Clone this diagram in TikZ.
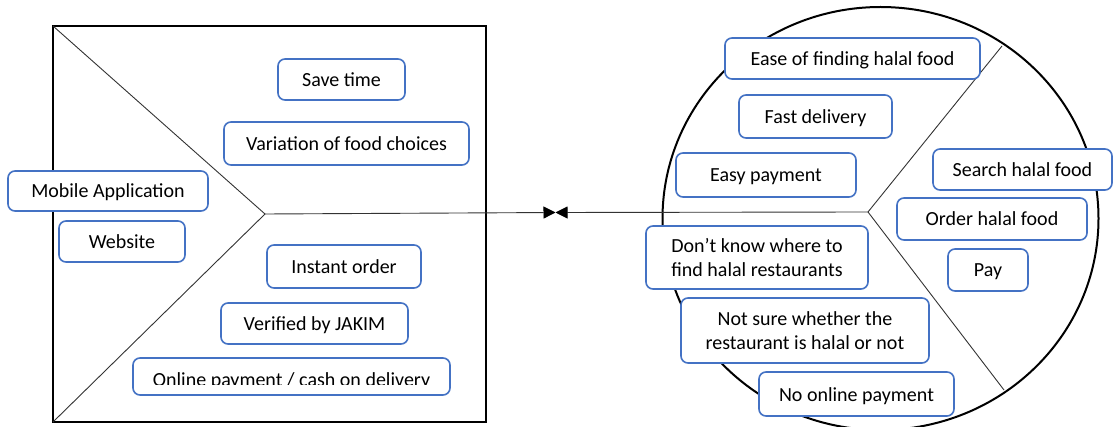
\documentclass[tikz,border=0pt]{standalone}
\usepackage{fontspec}
\setmainfont{Carlito}
\usetikzlibrary{arrows.meta}
\definecolor{boxblue}{HTML}{4472C4}
\definecolor{rulegray}{HTML}{333333}
\begin{document}
\begin{tikzpicture}[x=1pt,y=-1pt,
  cardfont/.style={font=\fontsize{20}{23.5}\selectfont},
  card/.style={cardfont, draw=boxblue, line width=1.6pt, rounded corners=7pt, fill=white,
    inner sep=0pt, align=center},
  oneline/.style={card, text height=14pt, text depth=0pt},
  frame/.style={line width=2pt, black},
  ray/.style={line width=0.9pt, rulegray},
  link/.style={line width=0.9pt, rulegray, -{Triangle[length=12pt,width=12pt,color=black]}}]
\useasboundingbox (0,0) rectangle (1113,427);

% value map square and its wedge
\draw[frame] (53,26) rectangle (486,422);
\coordinate (sqtl) at (53,26);
\coordinate (sqbl) at (53,422);
\coordinate (lv) at (265,214);
\draw[ray] (sqtl) -- (lv) -- (sqbl);

% customer profile circle and its sectors
\draw[frame] (880.5,218.5) ellipse [x radius=218pt, y radius=211.5pt];
\coordinate (rv) at (868,212);
\coordinate (rtop) at (1002,46);
\coordinate (rbot) at (1004,390);
\draw[ray] (rtop) -- (rv) -- (rbot);

% fit connector
\coordinate (fit) at (555.5,212.5);
\draw[link] (lv) -- (fit);
\draw[link] (rv) -- (fit);

% value map
\node[oneline, minimum width=127pt, minimum height=41pt] (save) at (341.5,79.5) {Save time};
\node[oneline, minimum width=245pt, minimum height=43pt] (vari) at (346.5,143.5) {Variation of food choices};
\node[oneline, minimum width=200pt, minimum height=40pt] (mob) at (108,191) {Mobile Application};
\node[oneline, minimum width=126pt, minimum height=41pt] (web) at (122,241.5) {Website};
\node[oneline, minimum width=154pt, minimum height=43pt] (inst) at (344,266.5) {Instant order};
\node[oneline, minimum width=187pt, minimum height=41pt] (jakim) at (314.5,323.5) {Verified by JAKIM};
\node[card, minimum width=317pt, minimum height=37pt] (onl) at (291.5,376.5) {};
\begin{scope}
  \clip (136,361) rectangle (448,384.5);
  \node[cardfont, anchor=base, inner sep=0pt] (onltxt) at (291.5,386) {Online payment / cash on delivery};
\end{scope}

% customer profile
\node[oneline, minimum width=255pt, minimum height=41pt] (ease) at (852.5,58.5) {Ease of finding halal food};
\node[oneline, minimum width=153pt, minimum height=43pt] (fast) at (815.5,116.5) {Fast delivery};
\node[oneline, minimum width=180pt, minimum height=44pt] (easy) at (766,175) {Easy payment};
\node[oneline, minimum width=179pt, minimum height=41pt] (search) at (1022.5,169.5) {Search halal food};
\node[oneline, minimum width=190pt, minimum height=42pt] (order) at (992,219) {Order halal food};
\node[oneline, minimum width=80pt, minimum height=42pt] (pay) at (988,270) {Pay};
\node[card, minimum width=222pt, minimum height=63pt] (dont) at (757,257.5) {Don’t know where to\\find halal restaurants};
\node[card, minimum width=248pt, minimum height=65pt] (notsure) at (805,330.5) {Not sure whether the\\restaurant is halal or not};
\node[oneline, minimum width=195pt, minimum height=44pt] (noonl) at (856.5,394) {No online payment};
\end{tikzpicture}
\end{document}
